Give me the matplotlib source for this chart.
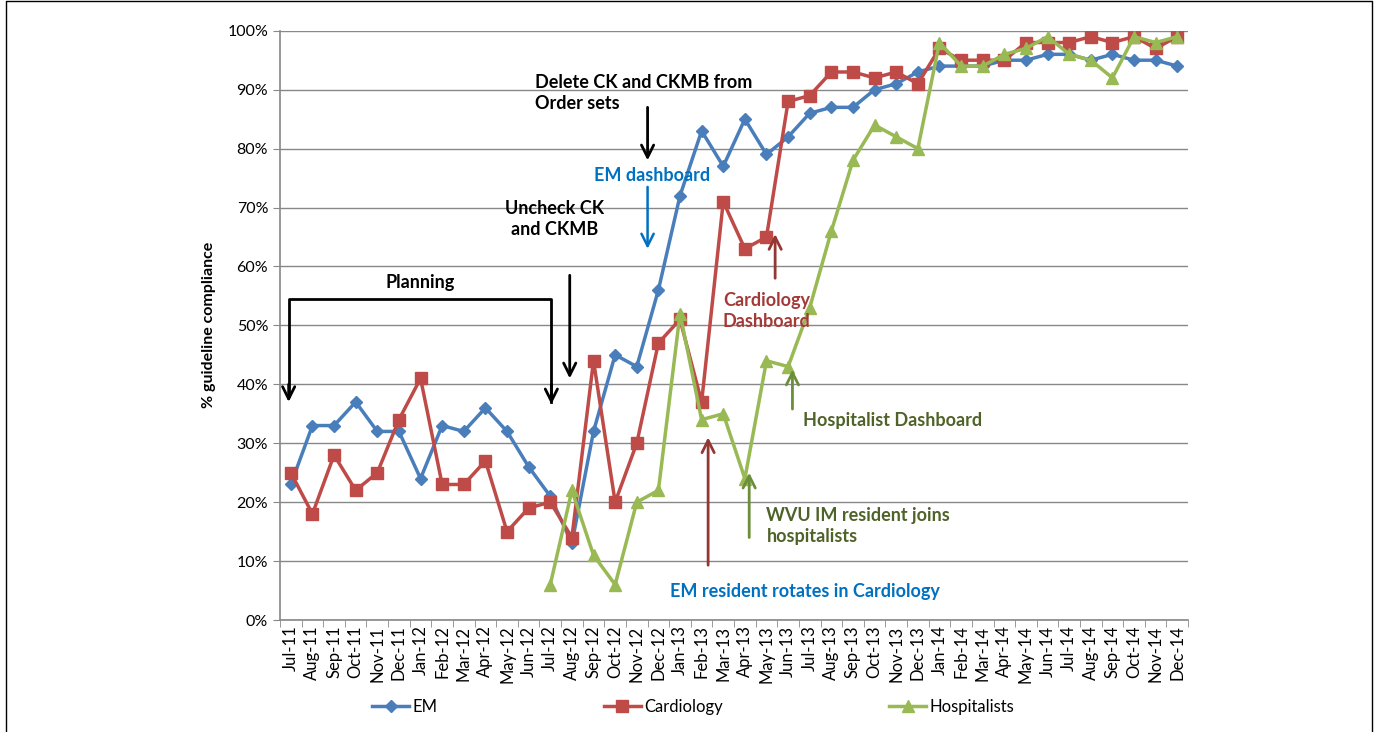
import numpy as np
import matplotlib
matplotlib.use("Agg")
import matplotlib.pyplot as plt

plt.rcParams['font.family'] = ['Lato', 'DejaVu Sans']

months = ["Jul-11", "Aug-11", "Sep-11", "Oct-11", "Nov-11", "Dec-11",
          "Jan-12", "Feb-12", "Mar-12", "Apr-12", "May-12", "Jun-12",
          "Jul-12", "Aug-12", "Sep-12", "Oct-12", "Nov-12", "Dec-12",
          "Jan-13", "Feb-13", "Mar-13", "Apr-13", "May-13", "Jun-13",
          "Jul-13", "Aug-13", "Sep-13", "Oct-13", "Nov-13", "Dec-13",
          "Jan-14", "Feb-14", "Mar-14", "Apr-14", "May-14", "Jun-14",
          "Jul-14", "Aug-14", "Sep-14", "Oct-14", "Nov-14", "Dec-14"]

em = [23, 33, 33, 37, 32, 32, 24, 33, 32, 36, 32, 26,
      21, 13, 32, 45, 43, 56, 72, 83, 77, 85, 79, 82,
      86, 87, 87, 90, 91, 93, 94, 94, 94, 95, 95, 96,
      96, 95, 96, 95, 95, 94]

cardiology = [25, 18, 28, 22, 25, 34, 41, 23, 23, 27, 15, 19,
              20, 14, 44, 20, 30, 47, 51, 37, 71, 63, 65, 88,
              89, 93, 93, 92, 93, 91, 97, 95, 95, 95, 98, 98,
              98, 99, 98, 99, 97, 99]

# hospitalists start in Jul-12
hosp_start = 12
hospitalists = [6, 22, 11, 6, 20, 22, 52, 34, 35, 24, 44, 43,
                53, 66, 78, 84, 82, 80, 98, 94, 94, 96, 97, 99,
                96, 95, 92, 99, 98, 99]

x = np.arange(len(months))

fig = plt.figure(figsize=(13.78, 7.32), dpi=100)
ax = fig.add_axes([0.2032, 0.153, 0.659, 0.805])

c_em, c_card, c_hosp = "#4A7EBB", "#BE4B48", "#98B954"
ax.plot(x, em, color=c_em, lw=2.5, marker="D", ms=6, label="EM", zorder=3)
ax.plot(x, cardiology, color=c_card, lw=2.5, marker="s", ms=8, label="Cardiology", zorder=3)
ax.plot(x[hosp_start:], hospitalists, color=c_hosp, lw=2.5, marker="^", ms=9,
        label="Hospitalists", zorder=3)

ax.set_xlim(-0.5, len(months) - 0.5)
ax.set_ylim(0, 100)
ax.set_yticks(np.arange(0, 101, 10))
ax.set_yticklabels([f"{v}%" for v in range(0, 101, 10)], fontsize=11.5)
ax.set_xticks(x)
ax.set_xticklabels(months, rotation=90, fontsize=12)
ax.set_xticks(np.arange(-0.5, len(months), 1), minor=True)
ax.tick_params(axis="x", which="major", length=0, pad=4)
ax.tick_params(axis="x", which="minor", length=5, color="#888888")
ax.tick_params(axis="y", length=5, color="#888888")
ax.grid(axis="y", color="#888888", lw=1)
ax.set_axisbelow(True)
for s in ["top", "right"]:
    ax.spines[s].set_visible(False)
for s in ["left", "bottom"]:
    ax.spines[s].set_color("#888888")
    ax.spines[s].set_linewidth(1.2)
ax.set_ylabel("% guideline compliance", fontsize=11.5, fontweight="bold", labelpad=8)


def arrow(x0, y0, y1, color, lw=2):
    ax.annotate("", xy=(x0, y1), xytext=(x0, y0),
                arrowprops=dict(arrowstyle="->", color=color, lw=lw,
                                mutation_scale=22, shrinkA=0, shrinkB=0))


# annotations
tb = dict(fontsize=13, fontweight="bold")
ax.text(6.0, 57.2, "Planning", ha="center", va="center", **tb)
ax.plot([-0.1, -0.1, 12.05, 12.05], [38.0, 54.5, 54.5, 37.0], color="black", lw=2)
arrow(-0.1, 40.0, 37.0, "black")
arrow(12.05, 40.0, 36.6, "black")

ax.text(12.2, 68.0, "Uncheck CK\nand CKMB", ha="center", va="center",
        linespacing=1.3, **tb)
arrow(12.9, 58.5, 41.0, "black")

ax.text(11.3, 89.5, "Delete CK and CKMB from\nOrder sets", ha="left", va="center",
        linespacing=1.3, **tb)
arrow(16.5, 87.0, 78.0, "black")

ax.text(16.7, 75.4, "EM dashboard", ha="center", va="center", color="#0070C0", **tb)
arrow(16.5, 73.5, 63.0, "#0070C0", 1.8)

ax.text(22.0, 52.5, "Cardiology\nDashboard", ha="center", va="center",
        color="#A33A37", linespacing=1.3, **tb)
arrow(22.4, 58.0, 65.5, "#943634")

ax.text(23.7, 33.8, "Hospitalist Dashboard", ha="left", va="center", color="#4F6228", **tb)
arrow(23.2, 35.8, 42.5, "#6B8E3A")

ax.text(22.0, 16.0, "WVU IM resident joins\nhospitalists", ha="left", va="center",
        color="#4F6228", linespacing=1.3, **tb)
arrow(21.2, 14.0, 25.0, "#6B8E3A")

ax.text(23.8, 4.8, "EM resident rotates in Cardiology", ha="center", va="center",
        color="#0070C0", **tb)
arrow(19.3, 9.3, 31.0, "#943634")

fig.legend(loc="center", bbox_to_anchor=(0.503, 0.034), ncol=3, frameon=False,
           fontsize=12, columnspacing=10, handlelength=2.2, handletextpad=0.2)

# outer frame
fig.add_artist(plt.Line2D([0.004, 0.004, 0.996, 0.996], [0, 0.999, 0.999, 0],
                          transform=fig.transFigure, color="black", lw=1))

fig.savefig("out.png", dpi=100)
